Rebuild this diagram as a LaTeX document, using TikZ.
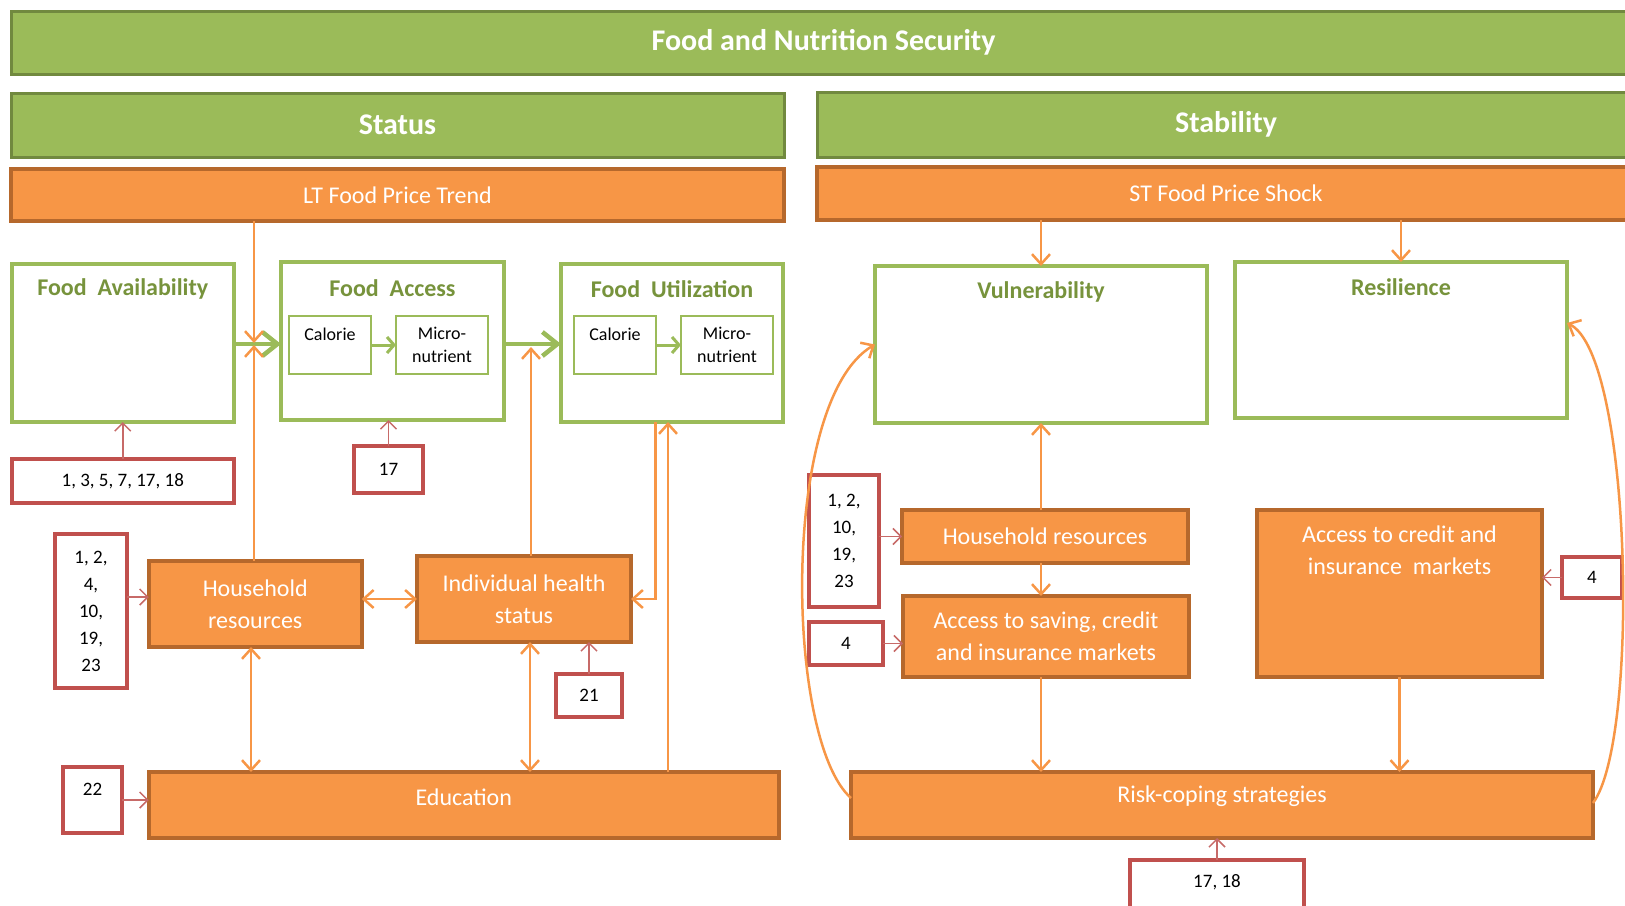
\documentclass[tikz,border=0pt]{standalone}
\usepackage{fontspec}
\setmainfont{Carlito}
\usetikzlibrary{arrows.meta}

\definecolor{gfill}{HTML}{9BBB59}
\definecolor{gdark}{HTML}{71893F}
\definecolor{gtext}{HTML}{77933C}
\definecolor{ofill}{HTML}{F79646}
\definecolor{odark}{HTML}{B6682C}
\definecolor{rline}{HTML}{C0504D}
\definecolor{rarrow}{HTML}{C76A68}

\tikzset{
  sz/.style 2 args={minimum width=#1pt, minimum height=#2pt},
  box/.style={rectangle, inner sep=0pt, outer sep=0pt},
  greenbar/.style={box, fill=gfill, draw=gdark, line width=3pt, text=white,
    font=\fontsize{30}{36}\selectfont\bfseries},
  orangebar/.style={box, fill=ofill, draw=odark, line width=3.5pt, text=white,
    font=\fontsize{24}{32}\selectfont, align=center},
  otext/.style={text=white, font=\fontsize{24}{32}\selectfont, align=center, inner sep=0pt},
  dimbox/.style={box, draw=gfill, line width=3.5pt, fill=white},
  subbox/.style={box, draw=gfill, line width=1.5pt, fill=white,
    font=\fontsize{18}{23}\selectfont, align=center},
  subtext/.style={font=\fontsize{18}{23}\selectfont, inner sep=0pt},
  refbox/.style={box, draw=rline, line width=3.5pt, fill=white,
    font=\fontsize{19}{27}\selectfont, align=center},
  reftext/.style={font=\fontsize{19}{27}\selectfont, inner sep=0pt},
  heading/.style={text=gtext, font=\fontsize{24}{30}\selectfont\bfseries, inner sep=0pt},
  otip/.tip={Straight Barb[length=10pt,width=18pt]},
  oarrow/.style={draw=ofill, line width=2.5pt, -otip},
  odouble/.style={draw=ofill, line width=2.5pt, otip-otip},
  rarr/.style={draw=rarrow, line width=1.5pt, -{Straight Barb[length=8pt,width=16pt]}},
  garrow/.style={draw=gfill, line width=4.5pt, -{Straight Barb[length=15pt,width=24pt]}},
  gsmall/.style={draw=gfill, line width=3pt, -{Straight Barb[length=7pt,width=16pt]}},
}

\begin{document}
\begin{tikzpicture}[x=1pt,y=-1pt]
\path[use as bounding box] (0,0) rectangle (1625,905);
\clip (0,0) rectangle (1625,905);

% ---------- headers ----------
\node[greenbar, sz={1625}{63}] (fns) at (823.5,42.5) {Food and Nutrition Security};
\node[greenbar, sz={773}{64}] (status) at (397.5,125) {Status};
\node[greenbar, sz={818}{65}] (stab) at (1226,124.5) {Stability};
\node[orangebar, sz={773}{52}] (lt) at (397.5,195) {LT Food Price Trend};
\node[orangebar, sz={818}{53}] (st) at (1226,193.5) {ST Food Price Shock};

% ---------- status side: dimensions ----------
\node[dimbox, sz={222}{158}] (fa) at (122.75,343) {};
\node[heading] (fat) at ([yshift=-25pt]fa.north) {Food~~Availability};

\node[dimbox, sz={223}{158}] (fac) at (392.5,341) {};
\node[heading] (fact) at ([yshift=-26pt]fac.north) {Food~~Access};
\node[subbox, sz={82}{58}] (cal1) at (330,345) {};
\node[subtext] (cal1t) at ([yshift=-18pt]cal1.north) {Calorie};
\node[subbox, sz={92}{58}] (mic1) at (442,345) {Micro-\\nutrient};

\node[dimbox, sz={222}{158}] (fu) at (672,343) {};
\node[heading] (fut) at ([yshift=-25pt]fu.north) {Food~~Utilization};
\node[subbox, sz={82}{58}] (cal2) at (615,345) {};
\node[subtext] (cal2t) at ([yshift=-18pt]cal2.north) {Calorie};
\node[subbox, sz={92}{58}] (mic2) at (727,345) {Micro-\\nutrient};

% ---------- status side: determinants ----------
\node[refbox, sz={222}{44}] (r1) at (122.75,481) {1, 3, 5, 7, 17, 18};
\node[refbox, sz={69}{47}] (r17) at (388.5,469.5) {17};
\node[refbox, sz={72}{154}] (rl) at (91,611) {1, 2,\\4,\\10,\\19,\\23};
\node[orangebar, sz={213}{86}] (hh) at (255.25,604) {Household\\resources};
\node[orangebar, sz={214}{86}] (ih) at (524,599) {Individual health\\status};
\node[refbox, sz={66}{43}] (r21) at (589,695.5) {21};
\node[refbox, sz={59}{66}] (r22) at (92.5,800) {};
\node[reftext] (r22t) at ([yshift=-22pt]r22.north) {22};
\node[orangebar, sz={630}{66}] (edu) at (463.75,805) {};
\node[otext] (edut) at ([yshift=8pt]edu.center) {Education};

% ---------- stability side ----------
\node[dimbox, sz={332}{157}] (vul) at (1041,344.5) {};
\node[heading] (vult) at ([yshift=-26pt]vul.north) {Vulnerability};
\node[dimbox, sz={332}{156}] (res) at (1401,340) {};
\node[heading] (rest) at ([yshift=-25pt]res.north) {Resilience};

\node[refbox, sz={70}{132}] (rr) at (844,541) {1, 2,\\10,\\19,\\23};
\node[orangebar, sz={286}{53}] (hh2) at (1045,536.5) {Household resources};
\node[refbox, sz={74}{43}] (r4a) at (846,643.5) {4};
\node[orangebar, sz={286}{81}] (asc) at (1046,636.5) {Access to saving, credit\\and insurance markets};
\node[orangebar, sz={285}{167}] (aci) at (1399.5,593.5) {};
\node[otext, anchor=north] (acit) at ([yshift=-16pt]aci.north) {Access to credit and\\insurance~~markets};
\node[refbox, sz={60}{41}] (r4b) at (1592,577.5) {4};
\node[orangebar, sz={742}{66}] (rc) at (1222,805) {};
\node[otext] (rct) at ([yshift=9pt]rc.center) {Risk-coping strategies};
\node[refbox, sz={174}{50}] (r1718) at (1217,885) {};
\node[reftext] (r1718t) at ([yshift=3pt]r1718.center) {17, 18};

% ---------- green flow between dimensions ----------
\coordinate (gy) at (0,344);
\draw[garrow] (fa.east |- gy) -- (fac.west |- gy);
\draw[garrow] (fac.east |- gy) -- (fu.west |- gy);
\draw[gsmall] (cal1.east) -- (mic1.west);
\draw[gsmall] (cal2.east) -- (mic2.west);

% ---------- orange links, status side ----------
\coordinate (m1) at (254,343);
\coordinate (m2) at (531,347);
\draw[oarrow] (lt.south -| m1) -- (m1);
\draw[oarrow] (hh.north -| m1) -- ([yshift=-2pt]m1);
\draw[oarrow] (ih.north -| m2) -- (m2);
\coordinate (fuL) at (655.5,0);
\coordinate (fuR) at (668,0);
\draw[oarrow] (fu.south -| fuL) |- (ih.east);
\draw[oarrow] (edu.north -| fuR) -- (fu.south -| fuR);
\draw[odouble] (hh.east |- ih.east) -- (ih.west);
\coordinate (hx) at (251,0);
\coordinate (ix) at (530,0);
\draw[odouble] (hh.south -| hx) -- (edu.north -| hx);
\draw[odouble] (ih.south -| ix) -- (edu.north -| ix);

% ---------- references, status side ----------
\draw[rarr] (r1.north) -- (r1.north |- fa.south);
\draw[rarr] (r17.north) -- (r17.north |- fac.south);
\draw[rarr] (r21.north) -- (r21.north |- ih.south);
\coordinate (hy) at (0,597);
\draw[rarr] (rl.east |- hy) -- (hh.west |- hy);
\draw[rarr] (r22.east) -- (r22.east -| edu.west);

% ---------- orange links, stability side ----------
\draw[oarrow] (st.south -| vul.north) -- (vul.north);
\draw[oarrow] (st.south -| res.north) -- (res.north);
\draw[oarrow] (vul.south |- hh2.north) -- (vul.south);
\draw[oarrow] (vul.south |- hh2.south) -- (vul.south |- asc.north);
\draw[oarrow] (vul.south |- asc.south) -- (vul.south |- rc.north);
\draw[oarrow] (aci.south) -- (aci.south |- rc.north);
\draw[oarrow] ([yshift=7pt]rc.west) .. controls (785,740) and (780,400) .. (vul.west);
\draw[oarrow] ([yshift=2pt]rc.east) .. controls (1640,740) and (1632,355) .. ([yshift=17pt]res.east);

% ---------- references, stability side ----------
\draw[rarr] (rr.east |- hh2.west) -- (hh2.west);
\draw[rarr] (r4a.east) -- (r4a.east -| asc.west);
\draw[rarr] (r4b.west) -- (r4b.west -| aci.east);
\draw[rarr] (r1718.north) -- (r1718.north |- rc.south);
\end{tikzpicture}
\end{document}
